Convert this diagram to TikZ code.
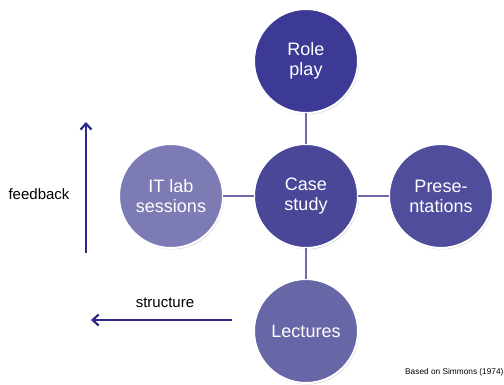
\documentclass[tikz,border=0pt]{standalone}
\usepackage{fontspec}
\setmainfont{Liberation Sans}
\usepackage{tikz}
\usetikzlibrary{positioning, shadows, arrows.meta}
\usepackage{xcolor}

\definecolor{roleblue}{RGB}{61,58,150}
\definecolor{caseblue}{RGB}{74,71,153}
\definecolor{presblue}{RGB}{80,77,157}
\definecolor{labblue}{RGB}{125,123,180}
\definecolor{lectblue}{RGB}{103,102,166}
\definecolor{linkblue}{RGB}{110,108,171}
\definecolor{arrowblue}{RGB}{43,42,138}

\tikzset{
  bubble/.style={circle, minimum size=104pt, inner sep=0pt, outer sep=0pt,
    draw=white, line width=2pt, text=white, align=center,
    font=\fontsize{18}{20}\selectfont,
    drop shadow={opacity=0.3, shadow xshift=1pt, shadow yshift=-1.5pt}},
  link/.style={draw=linkblue, line width=1.2pt},
  axis/.style={draw=arrowblue, line width=2.2pt, -{Straight Barb[length=6pt, width=11pt, line width=2.2pt]}},
  axislabel/.style={font=\fontsize{15}{18}\selectfont}
}

\begin{document}
\begin{tikzpicture}[x=1pt, y=1pt]
\useasboundingbox (0,0) rectangle (504,384);

% the five bubbles
\node[bubble, fill=caseblue] (case) at (306,188) {Case\\study};
\node[bubble, fill=roleblue, above=31pt of case] (role) {Role\\play};
\node[bubble, fill=lectblue, below=31pt of case] (lect) {Lectures};
\node[bubble, fill=labblue, left=31pt of case] (itlab) {IT lab\\sessions};
\node[bubble, fill=presblue, right=31pt of case] (pres) {Prese-\\ntations};

% links between bubbles
\draw[link] (case) -- (role);
\draw[link] (case) -- (lect);
\draw[link] (case) -- (itlab);
\draw[link] (case) -- (pres);

% feedback and structure
\coordinate (fbstart) at (86,131);
\coordinate (fbend) at (86,262);
\coordinate (ststart) at (232,64);
\coordinate (stend) at (91,64);
\draw[axis] (fbstart) -- (fbend);
\draw[axis] (ststart) -- (stend);
\node[axislabel] (fblabel) at (39,190) {feedback};
\node[axislabel] (stlabel) at (165,81) {structure};

\node[anchor=west, font=\fontsize{8.3}{9}\selectfont, inner sep=0pt] (source) at (405,12) {Based on Simmons (1974)};
%
\end{tikzpicture}
\end{document}
